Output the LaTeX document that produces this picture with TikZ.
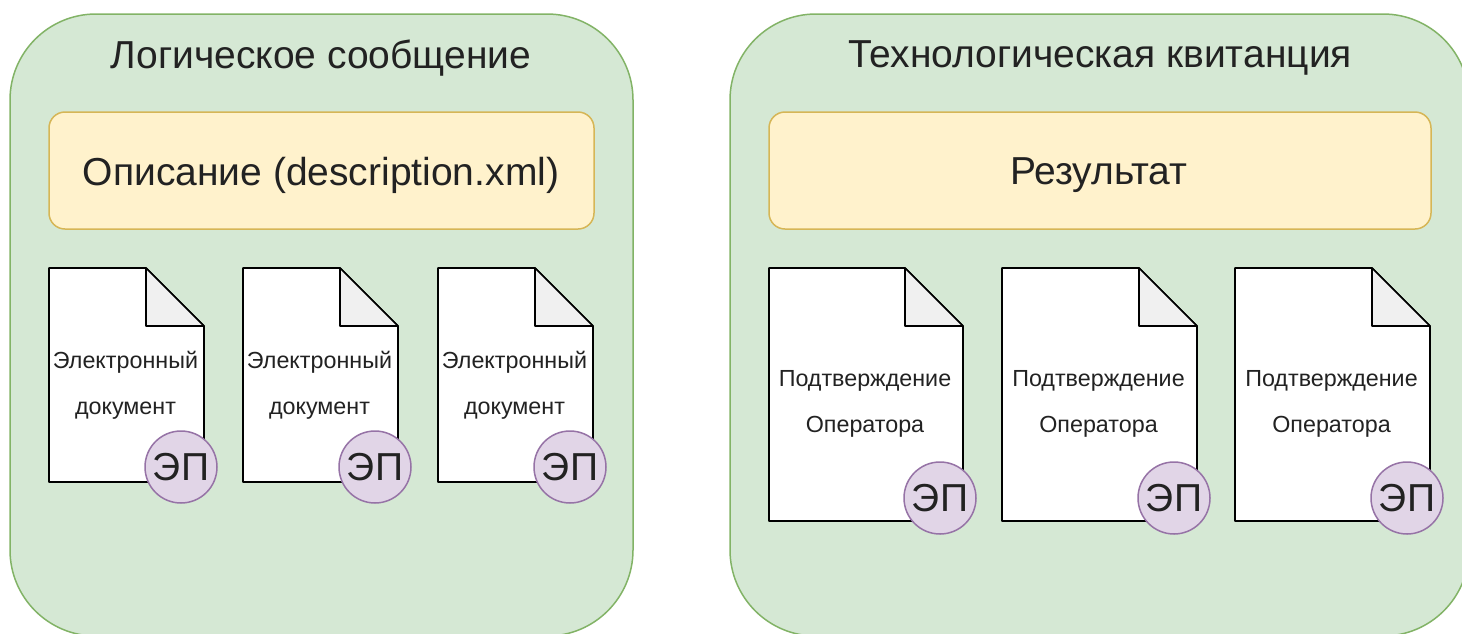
\documentclass[tikz,border=0pt]{standalone}
\usepackage{fontspec}
\setmainfont{Liberation Sans}
\definecolor{txt}{HTML}{222222}
\tikzset{
  panel/.style={draw={rgb,255:red,130;green,179;blue,102},fill={rgb,255:red,213;green,232;blue,212},line width=1.5pt,rounded corners=86pt},
  header/.style={draw={rgb,255:red,214;green,182;blue,86},fill={rgb,255:red,255;green,242;blue,204},line width=1.5pt,rounded corners=16pt},
  sheet/.style={draw=black,fill=white,line width=1.6pt,line join=round},
  foldpart/.style={draw=black,fill={rgb,255:red,240;green,240;blue,240},line width=1.6pt,line join=round},
  seal/.style={circle,draw={rgb,255:red,150;green,115;blue,166},fill={rgb,255:red,225;green,213;blue,231},line width=1.5pt,minimum size=72pt,inner sep=0pt,text=txt,font=\fontsize{39}{43}\selectfont},
  titletext/.style={text=txt,font=\fontsize{39}{43}\selectfont,inner sep=0pt},
  doctext/.style={text=txt,font=\fontsize{23.3}{46}\selectfont,align=center,inner sep=0pt},
}
\newcommand{\docsheet}[8]{% name, left, right, top, bottom, foldx, text, textY
  \draw[sheet] (#2,#4) -- (#6,#4) -- (#3,326) -- (#3,#5) -- (#2,#5) -- cycle;
  \draw[foldpart] (#6,#4) -- (#3,326) -- (#6,326) -- cycle;
  \node[doctext] (#1t) at ({(#2+#3)/2-1},#8) {#7};
}
\begin{document}
\begin{tikzpicture}[x=1pt,y=-1pt]
\useasboundingbox (0,0) rectangle (1462,633);
\clip (0,0) rectangle (1462,633);
\draw[panel] (10,14) rectangle (633,636);
\draw[panel] (730,14) rectangle (1469,636);
\node[titletext] (t1) at (321,58) {Логическое сообщение};
\node[titletext] (t2) at (1100,58) {Технологическая квитанция};
\draw[header] (49,112) rectangle (594,229);
\draw[header] (769,112) rectangle (1431,229);
\node[titletext] (h1) at (321,175) {Описание (description.xml)};
\node[titletext] (h2) at (1099,175) {Результат};
\foreach \n/\l in {a/49,b/243,c/438}{
  \pgfmathsetmacro{\r}{\l+155}
  \pgfmathsetmacro{\f}{\l+97}
  \docsheet{\n}{\l}{\r}{268}{482}{\f}{Электронный\\документ}{385}
  \node[seal] (s\n) at ({\l+132},467) {ЭП};
}
\foreach \n/\l/\r in {d/769/963,e/1002/1197,f/1235/1430}{
  \pgfmathsetmacro{\f}{\r-58}
  \docsheet{\n}{\l}{\r}{268}{521}{\f}{Подтверждение\\Оператора}{404}
  \node[seal] (s\n) at ({\r-23},498) {ЭП};
}
\end{tikzpicture}
\end{document}
